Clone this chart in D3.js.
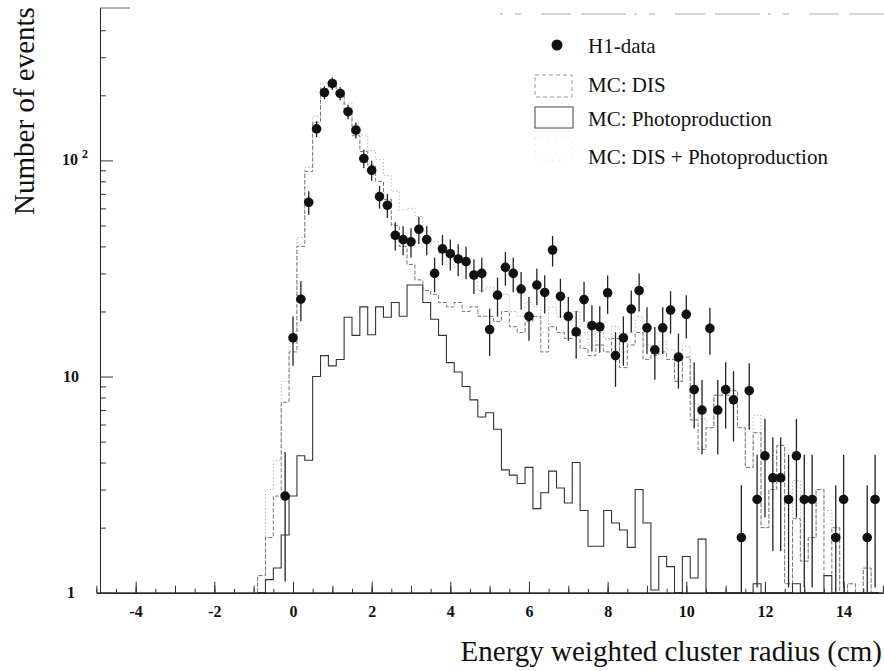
<!DOCTYPE html>
<html>
<head>
<meta charset="utf-8">
<script src="https://cdn.jsdelivr.net/npm/d3@7"></script>
<style>
  body { margin: 0; background: #fff; }
  svg { display: block; }
  text { font-family: "Liberation Serif", "Times New Roman", serif; fill: #111; }
</style>
</head>
<body>
<svg id="chart" width="884" height="671"></svg>
<script>
// bin centres of the MC histograms (bin width 0.2 cm)
const binX = [-0.8, -0.6, -0.4, -0.2, 0.0, 0.2, 0.4, 0.6, 0.8, 1.0,
  1.2, 1.4, 1.6, 1.8, 2.0, 2.2, 2.4, 2.6, 2.8, 3.0,
  3.2, 3.4, 3.6, 3.8, 4.0, 4.2, 4.4, 4.6, 4.8, 5.0,
  5.2, 5.4, 5.6, 5.8, 6.0, 6.2, 6.4, 6.6, 6.8, 7.0,
  7.2, 7.4, 7.6, 7.8, 8.0, 8.2, 8.4, 8.6, 8.8, 9.0,
  9.2, 9.4, 9.6, 9.8, 10.0, 10.2, 10.4, 10.6, 10.8, 11.0,
  11.2, 11.4, 11.6, 11.8, 12.0, 12.2, 12.4, 12.6, 12.8, 13.0,
  13.2, 13.4, 13.6, 13.8, 14.0, 14.2, 14.4, 14.6, 14.8];

const mcDIS = [1.2, 1.8, 2.8, 7.6, 13, 40, 89, 150, 215, 225,
  200, 165, 130, 110, 95, 80, 66, 50, 40, 33,
  28, 25, 24, 22, 21, 22, 20, 21, 19, 19,
  18, 20, 17, 16, 18, 19, 13, 17, 16, 15,
  16, 13.5, 12.5, 14, 13, 15, 11, 14, 16, 12,
  12.5, 13, 12, 9.5, 12.3, 6.3, 4.6, 5.8, 8.2, 8.2,
  8.6, 5.8, 3.8, 5.5, 2.0, 3.0, 4.8, 1.1, 2.2, 1.4,
  1.8, 3.0, 1.2, 2.0, 0, 1.1, 0, 1.3, 0];

const mcPhoto = [0, 1.15, 1.3, 1.85, 2.8, 4.3, 4.1, 10, 12.5, 11.2,
  12, 18.8, 15.5, 21, 15.6, 21, 18.8, 22, 19, 26.5,
  26.5, 22, 18.4, 15.5, 11.6, 10.5, 9.0, 7.8, 6.5, 6.8,
  5.7, 3.7, 3.5, 3.2, 3.8, 2.45, 2.9, 3.65, 3.05, 2.6,
  4.0, 2.4, 1.64, 1.64, 2.4, 2.1, 1.95, 1.62, 3.0, 2.1,
  1.03, 1.47, 1.32, 0, 1.47, 1.17, 1.77, 0, 0, 0,
  0, 0, 0, 1.1, 0, 0, 0, 0, 1.1, 0,
  0, 0, 1.2, 0, 0, 0, 0, 0, 0];

const mcSum = [1.2, 3.0, 4.1, 9.5, 15.8, 44, 93, 160, 228, 236,
  212, 184, 146, 131, 111, 101, 85, 72, 59, 60,
  55, 47, 42, 37, 33, 32, 29, 29, 25, 26,
  24, 24, 20, 19, 22, 21, 16, 21, 19, 18,
  20, 16, 14, 16, 15, 17, 13, 16, 19, 14,
  13.5, 14.5, 13.3, 9.5, 13.8, 7.5, 6.4, 5.8, 8.2, 8.2,
  8.6, 5.8, 3.8, 6.6, 2.0, 3.0, 4.8, 1.1, 3.3, 1.4,
  1.8, 3.0, 2.4, 2.0, 0, 1.1, 0, 1.3, 0];

// H1 data points (null = empty bin)
const dataX = [-0.2, 0.0, 0.2, 0.4, 0.6, 0.8, 1.0, 1.2, 1.4, 1.6,
  1.8, 2.0, 2.2, 2.4, 2.6, 2.8, 3.0, 3.2, 3.4, 3.6,
  3.8, 4.0, 4.2, 4.4, 4.6, 4.8, 5.0, 5.2, 5.4, 5.6,
  5.8, 6.0, 6.2, 6.4, 6.6, 6.8, 7.0, 7.2, 7.4, 7.6,
  7.8, 8.0, 8.2, 8.4, 8.6, 8.8, 9.0, 9.2, 9.4, 9.6,
  9.8, 10.0, 10.2, 10.4, 10.6, 10.8, 11.0, 11.2, 11.4, 11.6,
  11.8, 12.0, 12.2, 12.4, 12.6, 12.8, 13.0, 13.2, 13.4, 13.6,
  13.8, 14.0, 14.2, 14.4, 14.6, 14.8];

const dataY = [2.8, 15.1, 22.8, 64, 140, 206, 227, 204, 168, 138,
  102, 90, 68, 62, 45, 43, 42, 48, 43, 30,
  39, 37, 35, 34, 29.5, 30, 16.5, 23.8, 32, 30,
  25.4, 19, 26.5, 24.5, 38.5, 23.5, 19, 16.1, 22.7, 17.2,
  17, 24.4, 12.5, 15.1, 20.5, 25, 16.8, 13.3, 16.8, 20.3,
  12.3, 19.4, 8.7, 7, 16.7, 7, 8.7, 7.8, 1.8, 8.6,
  2.7, 4.3, 3.4, 3.4, 2.7, 4.3, 2.7, 2.7, null, null,
  1.8, 2.7, null, null, 1.8, 2.7];

const xMajorTicks = [-4, -2, 0, 2, 4, 6, 8, 10, 12, 14];
const legendLabels = ["H1-data", "MC: DIS", "MC: Photoproduction", "MC: DIS + Photoproduction"];

const svg = d3.select("#chart");

const x = d3.scaleLinear().domain([-5, 15]).range([96.35, 882.95]);
const y = d3.scaleLog().domain([1, 507]).range([592.7, 8]);
const axisLeftX = 100;
const halfBin = 0.1;

// frame: the scanned top edge is only partly visible
svg.append("line")
    .attr("x1", axisLeftX).attr("x2", 130)
    .attr("y1", y(507)).attr("y2", y(507))
    .attr("stroke", "#666").attr("stroke-width", 1);
svg.append("line")
    .attr("x1", 500).attr("x2", 884)
    .attr("y1", y(507) + 6).attr("y2", y(507) + 6)
    .attr("stroke", "#aaa").attr("stroke-width", 1)
    .attr("stroke-dasharray", "3,12,6,20,30,10,45,8");

// histograms
const histLine = d3.line();
function stepPoints(vals) {
    const pts = [[x(binX[0] - halfBin), y(1)]];
    binX.forEach((c, i) => {
        const v = Math.max(vals[i], 1);
        pts.push([x(c - halfBin), y(v)], [x(c + halfBin), y(v)]);
    });
    pts.push([x(binX[binX.length - 1] + halfBin), y(1)]);
    return pts;
}

svg.append("path")
    .attr("d", histLine(stepPoints(mcSum)))
    .attr("fill", "none").attr("stroke", "#bbb").attr("stroke-width", 1)
    .attr("stroke-dasharray", "1.5,2");

svg.append("path")
    .attr("d", histLine(stepPoints(mcDIS)))
    .attr("fill", "none").attr("stroke", "#777").attr("stroke-width", 1)
    .attr("stroke-dasharray", "4,2");

svg.append("path")
    .attr("d", histLine(stepPoints(mcPhoto)))
    .attr("fill", "none").attr("stroke", "#333").attr("stroke-width", 1.1);

// data with poisson error bars
const pts = dataX.map((d, i) => ({x: d, v: dataY[i]})).filter(d => d.v != null);

svg.append("g").selectAll("line")
    .data(pts)
    .join("line")
    .attr("x1", d => x(d.x)).attr("x2", d => x(d.x))
    .attr("y1", d => y(Math.max(d.v - Math.sqrt(d.v), 1)))
    .attr("y2", d => y(d.v + Math.sqrt(d.v)))
    .attr("stroke", "#222").attr("stroke-width", 1.3);

svg.append("g").selectAll("circle")
    .data(pts)
    .join("circle")
    .attr("cx", d => x(d.x))
    .attr("cy", d => y(d.v))
    .attr("r", 4.8)
    .attr("fill", "#111");

// x axis
const xAxisG = svg.append("g")
    .attr("transform", `translate(0,${y(1)})`);
xAxisG.call(d3.axisBottom(x).tickValues(d3.range(-5, 15.01, 0.5)).tickSize(-4).tickSizeOuter(0).tickFormat(""));
xAxisG.call(g => g.append("g").call(d3.axisBottom(x).tickValues(d3.range(-5, 15.01, 1)).tickSize(-7).tickSizeOuter(0).tickFormat("")));
xAxisG.call(g => g.append("g").call(d3.axisBottom(x).tickValues(xMajorTicks).tickSize(-11).tickSizeOuter(0).tickFormat(d => String(d))));
xAxisG.selectAll("path.domain").attr("stroke", "#222");
xAxisG.selectAll("line").attr("stroke", "#333");
xAxisG.selectAll("text")
    .attr("y", 24).attr("dy", 0)
    .style("font-family", "'Liberation Serif', serif")
    .style("font-size", "16px").style("font-weight", "bold").attr("fill", "#111");

// y axis
const yMinor = [2, 3, 4, 5, 6, 7, 8, 9, 20, 30, 40, 50, 60, 70, 80, 90, 200, 300, 400];
const yAxisG = svg.append("g").attr("transform", `translate(${axisLeftX},0)`);
yAxisG.call(d3.axisLeft(y).tickValues(yMinor).tickSize(-6).tickSizeOuter(0).tickFormat(""));
yAxisG.call(g => g.append("g").call(d3.axisLeft(y).tickValues([1, 10, 100]).tickSize(-13).tickSizeOuter(0).tickFormat("")));
yAxisG.selectAll("path.domain").attr("stroke", "#222");
yAxisG.selectAll("line").attr("stroke", "#333");

const yLab = svg.append("g")
    .style("font-size", "16px").style("font-weight", "bold");
yLab.append("text").attr("x", 75).attr("y", y(1) + 5).attr("text-anchor", "end").text("1");
yLab.append("text").attr("x", 79).attr("y", y(10) + 5).attr("text-anchor", "end").text("10");
const t100 = yLab.append("text").attr("x", 62).attr("y", y(100) + 5);
t100.append("tspan").text("10");
t100.append("tspan").attr("dx", 4).attr("dy", -7).style("font-size", "12px").text("2");

// axis titles
svg.append("text")
    .attr("x", 882).attr("y", 661)
    .attr("text-anchor", "end")
    .style("font-size", "29px")
    .text("Energy weighted cluster radius (cm)");

svg.append("text")
    .attr("transform", "translate(34,111) rotate(-90)")
    .attr("text-anchor", "middle")
    .style("font-size", "29px")
    .text("Number of events");

// legend
const lg = svg.append("g").style("font-size", "21px");
lg.append("circle").attr("cx", 557).attr("cy", 45).attr("r", 5.5).attr("fill", "#111");
lg.append("rect").attr("x", 535).attr("y", 75).attr("width", 37).attr("height", 22)
    .attr("fill", "none").attr("stroke", "#999").attr("stroke-dasharray", "4,3");
lg.append("rect").attr("x", 535).attr("y", 107).attr("width", 38).attr("height", 21)
    .attr("fill", "none").attr("stroke", "#444");
lg.append("rect").attr("x", 535).attr("y", 138).attr("width", 37).attr("height", 22)
    .attr("fill", "none").attr("stroke", "#e2e2e2").attr("stroke-dasharray", "1.5,5");
const legendY = [53, 92, 126, 164];
lg.selectAll("text.lab")
    .data(legendLabels)
    .join("text")
    .attr("class", "lab")
    .attr("x", 588)
    .attr("y", (d, i) => legendY[i])
    .text(d => d);
</script>
</body>
</html>
